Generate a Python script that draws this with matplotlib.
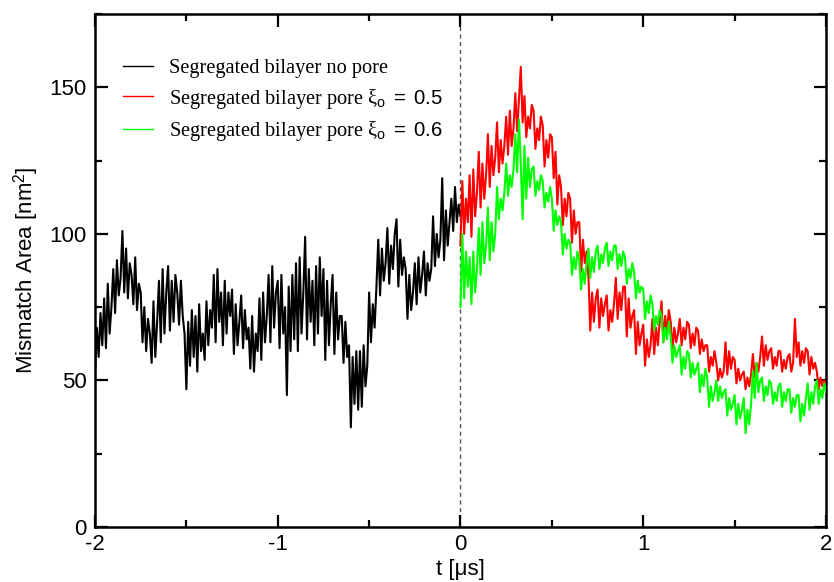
import numpy as np
import matplotlib.pyplot as plt
from matplotlib.ticker import MultipleLocator

plt.rcParams['font.family'] = ['Liberation Sans', 'DejaVu Sans']
plt.rcParams['axes.unicode_minus'] = False
plt.rcParams['mathtext.fontset'] = 'custom'
plt.rcParams['mathtext.rm'] = 'Liberation Serif'
plt.rcParams['mathtext.it'] = 'Liberation Serif:italic'
plt.rcParams['mathtext.sf'] = 'Liberation Sans'

t_before = np.round(np.arange(-2.0, 0.0001, 0.01), 2)
no_pore = [
    52, 68, 58, 73, 62, 78, 61, 83, 66, 75, 88, 73, 91, 79, 85, 101, 80, 95, 78, 90,
    86, 76, 92, 74, 83, 80, 63, 75, 60, 71, 66, 56, 77, 58, 70, 84, 63, 88, 66, 80,
    89, 67, 84, 70, 86, 80, 69, 84, 72, 66, 47, 70, 55, 74, 58, 72, 53, 76, 60, 66,
    57, 77, 62, 74, 68, 86, 63, 88, 70, 80, 62, 84, 66, 80, 72, 81, 59, 76, 62, 70,
    79, 61, 74, 64, 68, 54, 72, 53, 66, 60, 78, 57, 80, 63, 72, 86, 63, 89, 68, 80,
    84, 61, 86, 66, 75, 45, 82, 60, 86, 64, 90, 60, 92, 66, 80, 99, 64, 88, 70, 84,
    62, 89, 66, 92, 72, 88, 57, 84, 62, 76, 86, 59, 80, 64, 72, 72, 56, 70, 58, 62,
    34, 58, 42, 60, 40, 60, 41, 62, 48, 55, 80, 63, 76, 68, 82, 98, 79, 95, 84, 90,
    102, 83, 96, 88, 100, 105, 82, 98, 86, 92, 88, 71, 86, 74, 80, 90, 76, 92, 80, 86,
    94, 79, 90, 84, 88, 106, 89, 100, 92, 98, 119, 91, 108, 96, 104, 112, 101, 116, 104, 110,
    106,
]

t_after = np.round(np.arange(0.0, 2.0001, 0.01), 2)
pore_05 = [
    96, 118, 100, 112, 104, 120, 99, 122, 106, 114, 128, 109, 124, 112, 120, 134, 116, 130, 120, 126,
    138, 121, 132, 124, 130, 140, 127, 142, 130, 136, 148, 135, 146, 157, 138, 147, 133, 140, 136, 144,
    142, 129, 136, 132, 140, 137, 123, 132, 126, 134, 133, 119, 128, 110, 120, 116, 103, 112, 106, 114,
    112, 97, 108, 100, 104, 104, 87, 98, 90, 94, 86, 67, 80, 70, 78, 81, 68, 78, 72, 76,
    79, 67, 74, 70, 76, 85, 71, 80, 74, 82, 82, 65, 78, 68, 72, 74, 59, 70, 62, 66,
    69, 55, 64, 58, 62, 71, 59, 68, 62, 70, 77, 63, 72, 66, 74, 70, 61, 68, 63, 66,
    71, 62, 68, 64, 70, 69, 61, 66, 62, 68, 67, 59, 64, 60, 62, 62, 53, 58, 55, 60,
    56, 50, 54, 51, 53, 63, 52, 60, 54, 58, 57, 49, 54, 50, 52, 53, 47, 51, 48, 52,
    59, 51, 56, 53, 58, 65, 55, 62, 57, 60, 61, 54, 58, 55, 60, 60, 53, 57, 54, 58,
    59, 53, 56, 71, 58, 63, 55, 60, 56, 61, 60, 52, 58, 54, 56, 53, 47, 51, 48, 50,
    49,
]
pore_06 = [
    75, 100, 78, 94, 82, 92, 76, 94, 80, 88, 102, 86, 104, 90, 96, 109, 91, 104, 94, 100,
    116, 105, 112, 108, 114, 124, 113, 120, 116, 122, 134, 121, 139, 124, 105, 130, 112, 126, 116, 122,
    123, 113, 118, 115, 120, 118, 109, 114, 111, 116, 112, 101, 108, 103, 106, 104, 93, 100, 95, 98,
    97, 86, 92, 88, 94, 91, 81, 88, 83, 90, 95, 85, 92, 87, 94, 96, 88, 93, 90, 95,
    97, 89, 94, 91, 96, 96, 88, 93, 89, 94, 92, 83, 88, 85, 90, 87, 78, 84, 80, 82,
    81, 71, 77, 73, 79, 76, 67, 72, 69, 74, 72, 63, 68, 64, 70, 65, 56, 62, 58, 60,
    62, 52, 58, 54, 60, 59, 51, 56, 52, 54, 56, 46, 52, 48, 54, 51, 41, 48, 43, 46,
    50, 43, 48, 44, 46, 47, 38, 44, 40, 42, 45, 35, 42, 37, 40, 44, 32, 40, 35, 42,
    53, 44, 56, 46, 50, 51, 43, 48, 45, 50, 49, 42, 46, 43, 48, 49, 41, 46, 43, 47,
    47, 39, 44, 41, 45, 45, 36, 42, 38, 44, 49, 40, 46, 42, 48, 50, 42, 47, 44, 49,
    46,
]

labels = [
    "Segregated bilayer no pore",
    "Segregated bilayer pore $\\mathrm{\\xi}_\\mathsf{o}$ $\\mathsf{=\\ 0.5}$",
    "Segregated bilayer pore $\\mathrm{\\xi}_\\mathsf{o}$ $\\mathsf{=\\ 0.6}$",
]

fig = plt.figure(figsize=(8.34, 5.82), dpi=100)
ax = fig.add_axes([0.1139, 0.0945, 0.8765, 0.8814])

ax.axvline(0, color='#555555', lw=1, ls=(0, (3, 2.5)), zorder=1)
ax.plot(t_before, no_pore, color='black', lw=1.5, label=labels[0], zorder=2)
ax.plot(t_after, pore_05, color='#ff0000', lw=1.5, label=labels[1], zorder=3)
ax.plot(t_after, pore_06, color='#00ff00', lw=1.5, label=labels[2], zorder=4)

ax.set_xlim(-2, 2)
ax.set_ylim(0, 175)
ax.xaxis.set_major_locator(MultipleLocator(1))
ax.xaxis.set_minor_locator(MultipleLocator(0.5))
ax.yaxis.set_major_locator(MultipleLocator(50))
ax.yaxis.set_minor_locator(MultipleLocator(25))
ax.tick_params(which='both', direction='in', top=True, right=True, width=1.6, labelsize=16)
ax.tick_params(which='major', length=9)
ax.tick_params(axis='x', which='major', pad=5)
ax.tick_params(axis='y', which='major', pad=6)
ax.tick_params(which='minor', length=5)
for s in ax.spines.values():
    s.set_linewidth(1.8)

ax.set_xlabel("t [\u03bcs]", fontsize=16, labelpad=3)
ax.set_ylabel("Mismatch Area [nm$^\\mathsf{2}$]", fontsize=16, labelpad=6)

leg = ax.legend(loc='upper left', bbox_to_anchor=(0.013, 0.948), frameon=False,
                handlelength=1.5, handletextpad=0.75, labelspacing=0.4,
                prop={'family': 'Liberation Serif', 'size': 14.7})
for h in leg.get_lines():
    h.set_linewidth(1.0)

fig.savefig('out.png', dpi=100)
